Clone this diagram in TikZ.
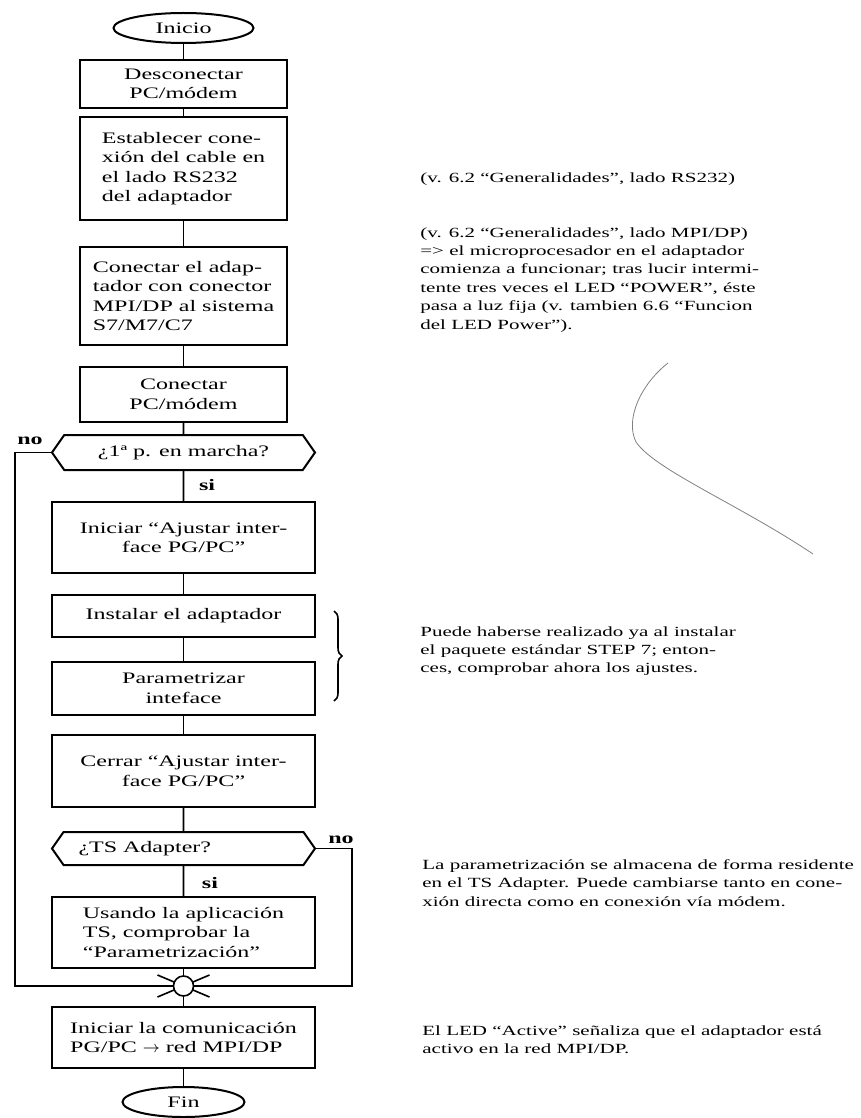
\documentclass[tikz,border=0pt]{standalone}
\usepackage{fontspec}
\setmainfont{Liberation Serif}[FakeStretch=1.5]
\usetikzlibrary{shapes.geometric,shapes.symbols,decorations.pathreplacing,calc}
\newcommand{\boxfont}{\fontsize{8}{9.75}\selectfont}
\newcommand{\notefont}{\fontsize{7}{9.2}\selectfont}
\tikzset{
  terminal/.style = { draw, ellipse, line width=1pt, inner sep=0pt, minimum height=15pt, font=\boxfont },
  process/.style  = { draw, rectangle, line width=1pt, inner sep=0pt, font=\boxfont },
  narrow/.style   = { process, minimum width=103.5pt },
  wide/.style     = { process, minimum width=131.5pt },
  decision/.style = { draw, signal, signal to=west and east, signal pointer angle=110,
                      line width=1pt, inner sep=0pt, minimum width=131.5pt, font=\boxfont },
  flow/.style     = { line width=0.8pt },
  answer/.style   = { font=\boxfont\bfseries, inner sep=0pt },
  note/.style     = { anchor=north west, inner sep=0pt, align=left, font=\notefont },
  mybrace/.style  = { decorate, decoration={brace,amplitude=#1}, line width=0.8pt }
}
\begin{document}
\begin{tikzpicture}[x=0.5pt,y=-0.5pt]
  \useasboundingbox (0,0) rectangle (861,1118);
  % Flow chart column
  \node[terminal, minimum width=70pt] (inicio) at (183.5,28) {Inicio};
  \node[narrow, minimum height=24pt, align=center] (desc) at (183.5,84) {Desconectar\\PC/módem};
  \node[narrow, minimum height=51.5pt, align=left] (estab) at (183.5,168.5)
    {Establecer cone-\\xión del cable en\\el lado RS232\\del adaptador};
  \node[narrow, minimum height=49pt, align=left] (adapt) at (183.5,296)
    {Conectar el adap-\\tador con conector\\MPI/DP al sistema\\S7/M7/C7};
  \node[narrow, minimum height=27.5pt, align=center] (conpc) at (183.5,394.5) {Conectar\\PC/módem};
  \node[decision, minimum height=17.5pt] (marcha) at (183.5,452.5) {¿1ª p. en marcha?};
  \node[wide, minimum height=35.5pt, align=center] (iniaj) at (183.5,537.5)
    {Iniciar “Ajustar inter-\\face PG/PC”};
  \node[wide, minimum height=21pt] (instal) at (183.5,616) {Instalar el adaptador};
  \node[wide, minimum height=26.5pt, align=center] (param) at (183.5,688.5) {Parametrizar\\inteface};
  \node[wide, minimum height=36pt, align=center] (cerrar) at (183.5,771)
    {Cerrar “Ajustar inter-\\face PG/PC”};
  \node[decision, minimum height=16.5pt] (tsad) at (183.5,848.5) {\makebox[105pt][l]{¿TS Adapter?}};
  \node[wide, minimum height=35.5pt, align=left] (usando) at (183.5,932.5)
    {Usando la aplicación\\TS, comprobar la\\“Parametrización”};
  \coordinate (jc) at (183.5,986);
  \draw[flow] ($(jc)+(-26,-11)$) -- ($(jc)+(26,11)$);
  \draw[flow] ($(jc)+(-26,11)$) -- ($(jc)+(26,-11)$);
  \node[draw, circle, fill=white, line width=0.8pt, inner sep=0pt, minimum size=10pt] (jn) at (jc) {};
  \node[wide, minimum height=30.5pt, align=left] (comun) at (183.5,1037.5)
    {Iniciar la comunicación\\PG/PC $\rightarrow$ red MPI/DP};
  \node[terminal, minimum width=61pt] (fin) at (183.5,1102) {Fin};
  % Connectors
  \foreach \a/\b in {inicio/desc, desc/estab, estab/adapt, adapt/conpc, conpc/marcha,
                     marcha/iniaj, iniaj/instal, instal/param, param/cerrar, cerrar/tsad,
                     tsad/usando, usando/jn, jn/comun, comun/fin}
    \draw[flow] (\a) -- (\b);
  \coordinate (loopL) at (15,986);
  \coordinate (loopR) at (352,986);
  \draw[flow] (marcha.west) -| (loopL) -- (jn);
  \draw[flow] (tsad.east) -| (loopR) -- (jn);
  \node[answer] (no1) at (30,441) {no};
  \node[answer] (si1) at (207,485) {si};
  \node[answer] (no2) at (341,840) {no};
  \node[answer] (si2) at (210,883) {si};
  % Notes on the right
  \node[note] (rs) at (420,172) {(v. 6.2 “Generalidades”, lado RS232)};
  \node[note] (mpi) at (420,227)
    {(v. 6.2 “Generalidades”, lado MPI/DP)\\=> el microprocesador en el adaptador\\comienza a funcionar; tras lucir intermi-\\tente tres veces el LED “POWER”, éste\\pasa a luz fija (v. tambien 6.6 “Funcion\\del LED Power”).};
  \draw[mybrace=4pt] ($(instal.north east)+(18,17)$) -- ($(param.south east)+(18,-15)$);
  \node[note] (step) at (420,626)
    {Puede haberse realizado ya al instalar\\el paquete estándar STEP 7; enton-\\ces, comprobar ahora los ajustes.};
  \node[note] (resid) at (422,859)
    {La parametrización se almacena de forma residente\\en el TS Adapter. Puede cambiarse tanto en cone-\\xión directa como en conexión vía módem.};
  \node[note] (led) at (422,1025)
    {El LED “Active” señaliza que el adaptador está\\activo en la red MPI/DP.};
  % stray pen stroke
  \draw[gray, line width=0.4pt] (668,363) .. controls (640,385) and (625,420) .. (636,442)
    .. controls (655,470) and (740,505) .. (813,554);
\end{tikzpicture}
\end{document}
